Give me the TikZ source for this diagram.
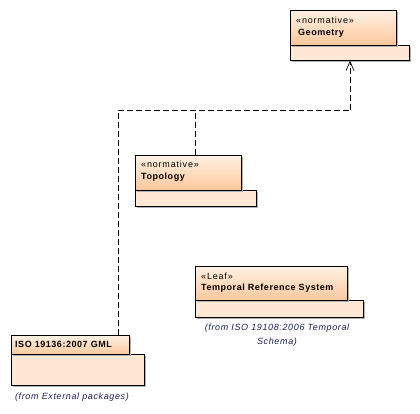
\documentclass[tikz,border=0pt]{standalone}
\usepackage{fontspec}
\setmainfont{Liberation Sans}
\usetikzlibrary{arrows.meta,shadows}
\definecolor{tabtop}{HTML}{FFF1E3}
\definecolor{tabbot}{HTML}{FCC79C}
\definecolor{bodyfill}{HTML}{FFE9D5}
\definecolor{notecol}{HTML}{1F1F5F}
\tikzset{
  pkgtab/.style={draw=black, line width=0.7pt, top color=tabtop, bottom color=tabbot, anchor=north west, inner sep=0pt,
    general shadow={fill=black!30, shadow xshift=1.5pt, shadow yshift=-1.5pt}},
  pkgbody/.style={draw=black, line width=0.7pt, fill=bodyfill, anchor=north west, inner sep=0pt,
    general shadow={fill=black!30, shadow xshift=1.5pt, shadow yshift=-1.5pt}},
  stereo/.style={anchor=west, inner sep=0pt, font=\fontsize{9}{11}\selectfont\addfontfeature{LetterSpace=9}},
  pname/.style={anchor=west, inner sep=0pt, font=\fontsize{9}{11}\selectfont\bfseries\addfontfeature{LetterSpace=6}},
  fromtxt/.style={inner sep=0pt, align=center, text=notecol, font=\fontsize{9}{14}\selectfont\itshape\addfontfeature{LetterSpace=7}},
  dep/.style={line width=0.7pt, dash pattern=on 6pt off 3pt},
}
\begin{document}
\begin{tikzpicture}[x=1pt,y=-1pt]
\fill[white] (0,0) rectangle (420,414);
\useasboundingbox (0,0) rectangle (420,414);
% Geometry
\node[pkgbody, minimum width=119pt, minimum height=15pt] (geoB) at (290,45) {};
\node[pkgtab, minimum width=106pt, minimum height=35pt] (geoT) at (290,10) {};
\node[stereo] (geoS) at (296,20) {«normative»};
\node[pname] (geoN) at (298,33) {Geometry};
% Topology
\node[pkgbody, minimum width=121pt, minimum height=16pt] (topB) at (135,190) {};
\node[pkgtab, minimum width=106pt, minimum height=35pt] (topT) at (135,155) {};
\node[stereo] (topS) at (141,164) {«normative»};
\node[pname] (topN) at (141,177) {Topology};
% Temporal
\node[pkgbody, minimum width=168pt, minimum height=17pt] (tmpB) at (195,300) {};
\node[pkgtab, minimum width=152pt, minimum height=34pt] (tmpT) at (195,266) {};
\node[stereo] (tmpS) at (201,276) {«Leaf»};
\node[pname] (tmpN) at (201,288) {Temporal Reference System};
\node[fromtxt] (tmpF) at (277,335) {(from ISO 19108:2006 Temporal\\Schema)};
% GML
\node[pkgbody, minimum width=133pt, minimum height=31pt] (gmlB) at (11,354) {};
\node[pkgtab, minimum width=118pt, minimum height=19pt] (gmlT) at (11,335) {};
\node[pname] (gmlN) at (15,344) {ISO 19136:2007 GML};
\node[fromtxt] (gmlF) at (72,397) {(from External packages)};
% connectors
\coordinate (j1) at (118,110);
\coordinate (j2) at (195,110);
\coordinate (j3) at (350,110);
\draw[dep] (gmlT.north -| j1) -- (j1) -- (j3);
\draw[dep] (topT.north -| j2) -- (j2);
\draw[dep, -{Straight Barb[length=9pt,width=8pt]}] (j3) -- (geoB.south -| j3);
\end{tikzpicture}
\end{document}
